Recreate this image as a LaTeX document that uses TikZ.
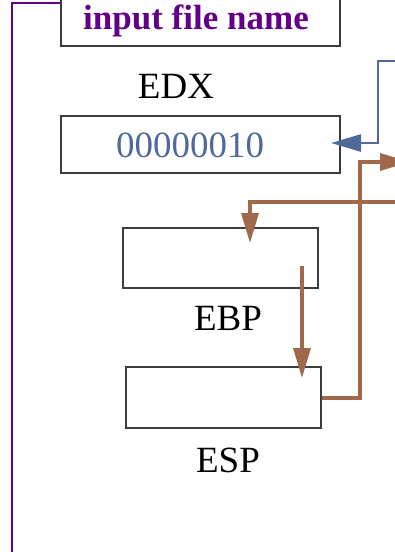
\documentclass[tikz,border=0pt]{standalone}
\usepackage{fontspec}
\setmainfont{Liberation Serif}
\usetikzlibrary{arrows.meta}
\definecolor{pur}{RGB}{98,0,135}
\definecolor{bluegray}{RGB}{80,105,155}
\definecolor{brn}{RGB}{160,105,75}
\definecolor{boxgray}{RGB}{60,60,60}
\begin{document}
\begin{tikzpicture}[x=1pt,y=-1pt,
  regbox/.style={draw=boxgray,line width=1.3pt,rectangle,inner sep=0pt},
  lbl/.style={font=\fontsize{37}{40}\selectfont,inner sep=0pt},
  brarrow/.style={draw=brn,line width=3.3pt,-{Triangle[length=30pt,width=17pt]}},
  brline/.style={draw=brn,line width=3.3pt}]
\useasboundingbox (0,0) rectangle (394,552);
% boxes
\node[regbox,minimum width=279pt,minimum height=50pt] (inbox) at (200.5,21) {};
\node[font=\bfseries\fontsize{35}{38}\selectfont,text=pur,inner sep=0pt] (intext) at (196,21) {input file name};
\node[lbl] (edxl) at (176,86) {EDX};
\node[regbox,minimum width=279pt,minimum height=57pt] (edx) at (200.5,144.5) {};
\node[lbl,text=bluegray] (edxv) at (190,145) {00000010};
\node[regbox,minimum width=195pt,minimum height=60pt] (ebp) at (220.5,258) {};
\node[lbl] (ebpl) at (228,318) {EBP};
\node[regbox,minimum width=195pt,minimum height=61pt] (esp) at (223.5,397.5) {};
\node[lbl] (espl) at (228,460) {ESP};
% coordinates
\coordinate (pstart) at (60,3);
\coordinate (pend) at (12,560);
\coordinate (bstart) at (400,61);
\coordinate (btip) at (331,143);
\coordinate (b2start) at (400,202);
\coordinate (b2tip) at (250,243);
\coordinate (b3start) at (302,266);
\coordinate (b3tip) at (302,378);
\coordinate (b1tip) at (410,162);
% purple line
\draw[pur,line width=2.5pt] (pstart) -- (12,3) -- (pend);
% blue arrow
\draw[bluegray,line width=2.7pt,-{Triangle[length=30pt,width=17pt]}] (bstart) -- (378,61) -- (378,143) -- (btip);
% brown arrows
\draw[brarrow] (esp.east |- 0,398) -- (360,398) -- (360,162) -- (b1tip);
\draw[brarrow] (b2start) -- (250,202) -- (b2tip);
\draw[brarrow] (b3start) -- (b3tip);
\end{tikzpicture}
\end{document}
